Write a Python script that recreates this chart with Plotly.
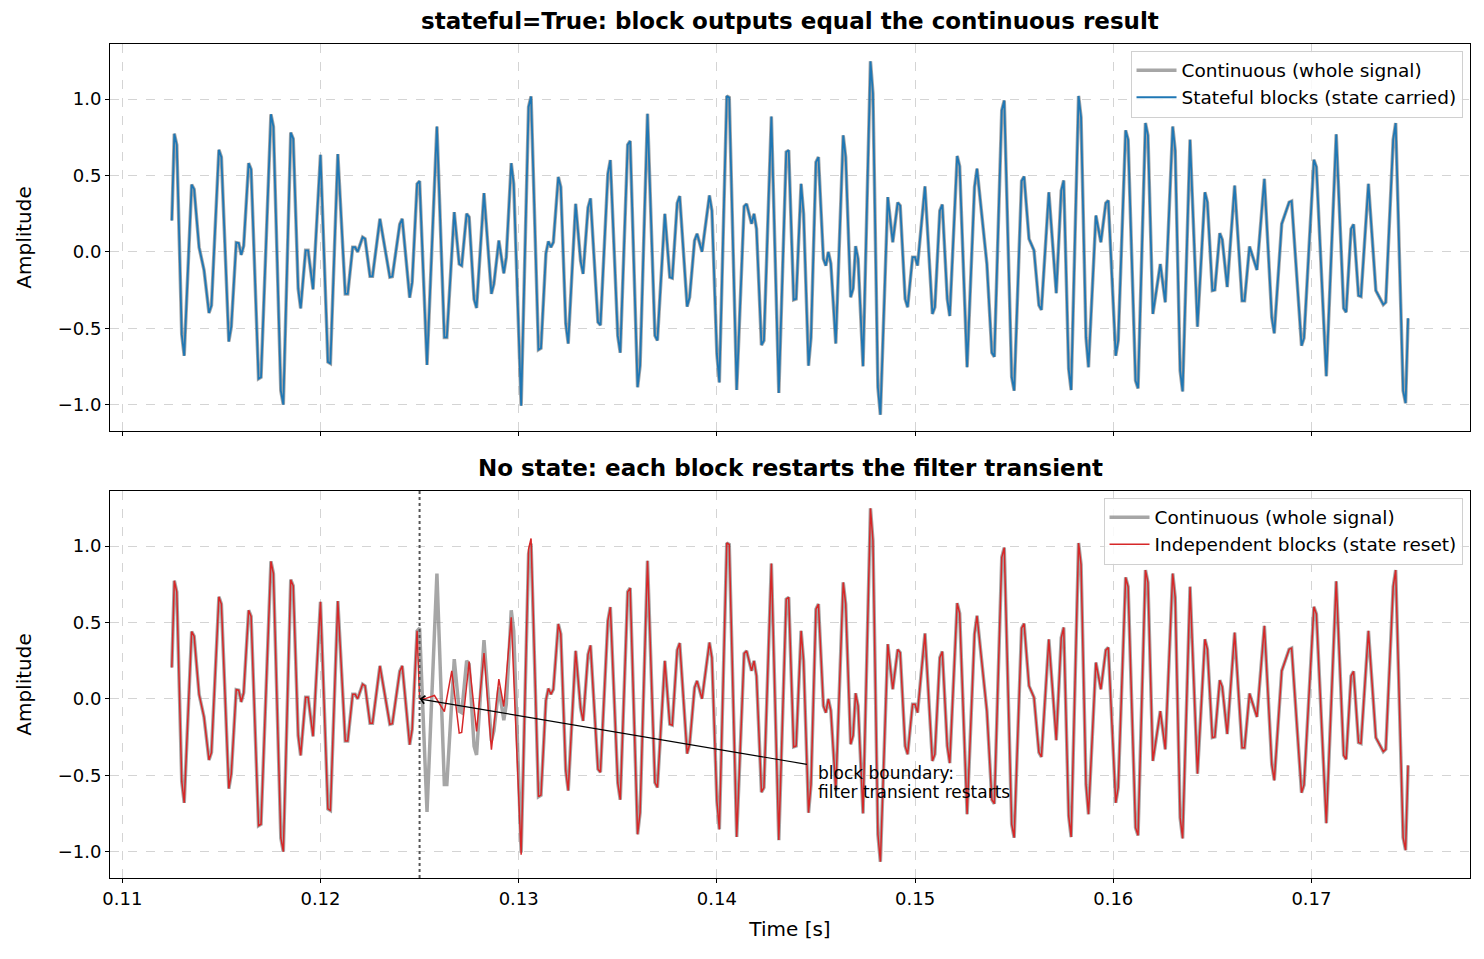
import numpy as np
import plotly.graph_objects as go

# ---- data (time in ms, amplitude) ----
cont_t_ms = [112.5, 112.625, 112.75, 113.0, 113.125, 113.5, 113.625, 113.875, 114.125, 114.375, 114.5,
             114.875, 115.0, 115.375, 115.5, 115.75, 115.875, 116.0, 116.125, 116.375, 116.5, 116.875,
             117.0, 117.5, 117.625, 118.0, 118.125, 118.5, 118.625, 118.875, 119.0, 119.25, 119.375,
             119.625, 120.0, 120.375, 120.5, 120.875, 121.25, 121.375, 121.625, 121.75, 121.875, 122.125,
             122.25, 122.5, 122.625, 123.0, 123.5, 123.625, 124.0, 124.125, 124.5, 124.625, 124.875,
             125.0, 125.375, 125.875, 126.25, 126.375, 126.75, 127.0, 127.125, 127.375, 127.5, 127.75,
             127.875, 128.25, 128.625, 128.75, 129.0, 129.25, 129.375, 129.625, 129.75, 130.125, 130.5,
             130.625, 131.0, 131.125, 131.375, 131.5, 131.625, 131.75, 132.0, 132.125, 132.375, 132.5,
             132.875, 133.125, 133.25, 133.5, 133.625, 134.0, 134.125, 134.5, 134.625, 135.0, 135.125,
             135.5, 135.625, 136.0, 136.125, 136.5, 136.875, 137.0, 137.375, 137.625, 137.75, 138.0,
             138.125, 138.5, 138.625, 138.875, 139.0, 139.25, 139.625, 139.75, 140.0, 140.125, 140.5,
             140.625, 141.0, 141.375, 141.5, 141.75, 141.875, 142.0, 142.25, 142.375, 142.75, 143.125,
             143.5, 143.625, 143.875, 144.0, 144.25, 144.375, 144.625, 144.75, 145.0, 145.125, 145.375,
             145.5, 145.625, 145.75, 146.0, 146.375, 146.5, 146.75, 146.875, 147.0, 147.125, 147.375,
             147.75, 147.875, 148.125, 148.25, 148.625, 148.875, 149.125, 149.25, 149.5, 149.625,
             149.875, 150.0, 150.125, 150.5, 150.875, 151.0, 151.25, 151.375, 151.625, 151.75, 152.125,
             152.25, 152.625, 153.0, 153.125, 153.375, 153.625, 153.875, 154.0, 154.375, 154.5, 154.875,
             155.0, 155.375, 155.5, 155.75, 156.0, 156.25, 156.375, 156.75, 157.125, 157.375, 157.5,
             157.75, 157.875, 158.25, 158.375, 158.625, 158.75, 159.125, 159.375, 159.625, 159.75,
             160.125, 160.25, 160.625, 160.75, 161.125, 161.25, 161.625, 161.75, 162.0, 162.375,
             162.625, 163.0, 163.125, 163.375, 163.5, 163.875, 164.25, 164.625, 164.75, 165.0, 165.125,
             165.375, 165.5, 165.75, 166.125, 166.5, 166.625, 166.875, 167.25, 167.625, 168.0, 168.125,
             168.5, 168.875, 169.0, 169.5, 169.625, 170.125, 170.25, 170.75, 171.25, 171.625, 171.75,
             172.0, 172.125, 172.375, 172.5, 172.875, 173.25, 173.625, 173.75, 174.125, 174.25, 174.625,
             174.75, 174.875]

cont_v = [0.205, 0.773, 0.70, -0.54, -0.68, 0.44, 0.41, 0.03, -0.12, -0.40, -0.35,
          0.668, 0.62, -0.587, -0.49, 0.06, 0.057, -0.02, 0.04, 0.58, 0.54, -0.83,
          -0.82, 0.90, 0.82, -0.91, -1.0, 0.78, 0.74, -0.24, -0.37, 0.01, 0.01,
          -0.245, 0.635, -0.72, -0.73, 0.64, -0.275, -0.275, 0.03, 0.03, 0.0, 0.096,
          0.085, -0.16, -0.16, 0.216, -0.166, -0.162, 0.18, 0.216, -0.30, -0.20, 0.445,
          0.463, -0.74, 0.82, -0.56, -0.56, 0.26, -0.08, -0.09, 0.25, 0.227, -0.31,
          -0.367, 0.384, -0.275, -0.21, 0.074, -0.14, -0.035, 0.58, 0.445, -1.006, 0.948,
          1.017, -0.64, -0.63, -0.01, 0.068, 0.03, 0.063, 0.49, 0.424, -0.47, -0.60,
          0.314, -0.06, -0.144, 0.29, 0.35, -0.46, -0.48, 0.51, 0.60, -0.55, -0.66,
          0.70, 0.725, -0.886, -0.745, 0.904, -0.548, -0.58, 0.249, -0.166, -0.172, 0.319,
          0.365, -0.358, -0.297, 0.074, 0.118, 0.0, 0.369, 0.27, -0.668, -0.854, 1.02,
          1.01, -0.904, 0.297, 0.314, 0.183, 0.249, 0.15, -0.61, -0.58, 0.886, -0.924,
          0.653, 0.664, -0.314, -0.308, 0.445, 0.25, -0.745, -0.56, 0.587, 0.62, -0.046,
          -0.09, 0.0, -0.076, -0.60, 0.762, 0.62, -0.297, -0.24, 0.037, -0.046, -0.749,
          1.247, 1.035, -0.886, -1.066, 0.358, 0.063, 0.323, 0.303, -0.308, -0.362,
          -0.035, -0.035, -0.09, 0.428, -0.406, -0.362, 0.27, 0.31, -0.308, -0.42, 0.627,
          0.56, -0.755, 0.424, 0.544, 0.227, -0.08, -0.66, -0.686, 0.926, 0.99, -0.82,
          -0.908, 0.463, 0.493, 0.085, 0.01, -0.35, -0.38, 0.39, -0.27, 0.40, 0.467,
          -0.766, -0.904, 1.02, 0.88, -0.56, -0.755, 0.238, 0.063, 0.319, 0.336,
          -0.68, -0.58, 0.795, 0.734, -0.843, -0.893, 0.843, 0.762, -0.406, -0.08,
          -0.33, 0.82, 0.664, -0.777, -0.913, 0.734, -0.49, 0.39, 0.325, -0.253, -0.249,
          0.122, 0.079, -0.23, 0.434, -0.32, -0.32, 0.035, -0.118, 0.478, -0.43, -0.533,
          0.183, 0.325, 0.332, -0.614, -0.563, 0.603, 0.555, -0.814, 0.769, -0.369, -0.395,
          0.15, 0.18, -0.286, -0.292, 0.445, -0.253, -0.345, -0.33, 0.734, 0.843, -0.908,
          -0.99, -0.435]

# independent blocks: transient after the block boundary (then rejoins the continuous signal)
boundary_ms = 125.0
rejoin_ms = 131.0
reset_t_ms = [125.0, 125.25, 125.75, 126.25, 126.625, 127.0, 127.125, 127.5, 127.875,
              128.25, 128.625, 129.0, 129.25, 129.625, 130.125, 130.5, 130.625]
reset_v = [0.0, 0.0, 0.022, -0.083, 0.183, -0.224, -0.22, 0.244, -0.213,
           0.30, -0.333, 0.13, -0.05, 0.534, -1.02, 0.98, 1.05]

x_ticks = [0.11, 0.12, 0.13, 0.14, 0.15, 0.16, 0.17]
y_ticks = [-1.0, -0.5, 0.0, 0.5, 1.0]

# ---- build series ----
t_cont = np.array(cont_t_ms) / 1000.0
v_cont = np.array(cont_v)
before = t_cont < boundary_ms / 1000.0
after = t_cont >= rejoin_ms / 1000.0
t_ind = np.concatenate([t_cont[before], np.array(reset_t_ms) / 1000.0, t_cont[after]])
v_ind = np.concatenate([v_cont[before], np.array(reset_v), v_cont[after]])

GRAY = "rgba(128,128,128,0.7)"
BLUE = "#1f77b4"
RED = "#d62728"
FONT = "DejaVu Sans"
TICK = 18
LAB = 20
LEG = 18.5

fig = go.Figure()
fig.add_trace(go.Scatter(x=t_cont, y=v_cont, mode="lines", name="Continuous (whole signal)",
                         line=dict(color=GRAY, width=3.5), xaxis="x", yaxis="y", legend="legend"))
fig.add_trace(go.Scatter(x=t_cont, y=v_cont, mode="lines", name="Stateful blocks (state carried)",
                         line=dict(color=BLUE, width=1.8), xaxis="x", yaxis="y", legend="legend"))
fig.add_trace(go.Scatter(x=t_cont, y=v_cont, mode="lines", name="Continuous (whole signal)",
                         line=dict(color=GRAY, width=3.5), xaxis="x2", yaxis="y2", legend="legend2"))
fig.add_trace(go.Scatter(x=t_ind, y=v_ind, mode="lines", name="Independent blocks (state reset)",
                         line=dict(color=RED, width=1.5), xaxis="x2", yaxis="y2", legend="legend2"))

xr = [0.10938, 0.17800]
yr = [-1.172, 1.36]
common_x = dict(range=xr, tickvals=x_ticks, ticks="outside", ticklen=4, tickwidth=1, tickcolor="black",
                showline=True, linecolor="black", linewidth=1, mirror=True, zeroline=False,
                showgrid=True, gridcolor="#d4d4d4", griddash="dash", gridwidth=1, automargin=False,
                tickfont=dict(family=FONT, size=TICK, color="black"))
common_y = dict(range=yr, tickvals=y_ticks, tickformat=".1f", ticks="outside", ticklen=4, tickwidth=1,
                tickcolor="black", showline=True, linecolor="black", linewidth=1, mirror=True,
                zeroline=False, showgrid=True, gridcolor="#d4d4d4", griddash="dash", gridwidth=1,
                automargin=False, tickfont=dict(family=FONT, size=TICK, color="black"),
                title=dict(text="Amplitude", font=dict(family=FONT, size=LAB, color="black"), standoff=20))

leg_common = dict(xanchor="right", yanchor="top", bgcolor="rgba(255,255,255,0.85)",
                  bordercolor="#d0d0d0", borderwidth=1, font=dict(family=FONT, size=LEG, color="black"),
                  tracegroupgap=0, itemwidth=40)

fig.update_layout(
    width=1484, height=959,
    margin=dict(l=110, r=14, t=44, b=81),
    paper_bgcolor="white", plot_bgcolor="white",
    font=dict(family=FONT, size=LEG, color="black"),
    xaxis=dict(common_x, domain=[0, 1], anchor="y", matches="x2", showticklabels=False),
    yaxis=dict(common_y, domain=[0.536, 1], anchor="x"),
    xaxis2=dict(common_x, domain=[0, 1], anchor="y2", tickformat=".2f",
                title=dict(text="Time [s]", font=dict(family=FONT, size=LAB, color="black"), standoff=14)),
    yaxis2=dict(common_y, domain=[0, 0.464], anchor="x2"),
    legend=dict(leg_common, x=0.9945, y=0.992),
    legend2=dict(leg_common, x=0.9945, y=0.456),
    showlegend=True,
)

# titles
fig.add_annotation(text="<b>stateful=True: block outputs equal the continuous result</b>",
                   xref="x domain", yref="y domain", x=0.5, y=1, xanchor="center", yanchor="bottom",
                   yshift=8, showarrow=False, font=dict(family=FONT, size=23, color="black"))
fig.add_annotation(text="<b>No state: each block restarts the filter transient</b>",
                   xref="x2 domain", yref="y2 domain", x=0.5, y=1, xanchor="center", yanchor="bottom",
                   yshift=8, showarrow=False, font=dict(family=FONT, size=23, color="black"))

# block boundary line
fig.add_shape(type="line", xref="x2", yref="y2 domain", x0=boundary_ms / 1000.0, x1=boundary_ms / 1000.0,
              y0=0, y1=1, line=dict(color="#555555", width=2, dash="dot"))

# arrow + annotation text
fig.add_annotation(x=boundary_ms / 1000.0, y=0.0, ax=0.14462, ay=-0.43, xref="x2", yref="y2",
                   axref="x2", ayref="y2", text="", showarrow=True, arrowhead=4, arrowsize=1.3,
                   arrowwidth=1.2, arrowcolor="black", standoff=0, startstandoff=0)
fig.add_annotation(x=0.145, y=-0.484, xref="x2", yref="y2", xanchor="left", yanchor="middle",
                   text="block boundary:", showarrow=False, font=dict(family=FONT, size=17, color="black"))
fig.add_annotation(x=0.145, y=-0.608, xref="x2", yref="y2", xanchor="left", yanchor="middle",
                   text="filter transient restarts", showarrow=False,
                   font=dict(family=FONT, size=17, color="black"))

fig.write_html("out.html")
